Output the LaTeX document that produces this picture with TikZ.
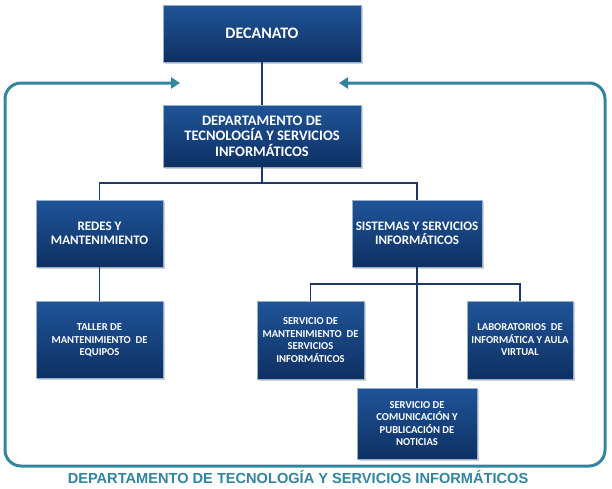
\documentclass[tikz,border=0pt]{standalone}
\usepackage{fontspec}
\setmainfont{Carlito}
\newfontfamily\titlefont{Liberation Sans}
\usetikzlibrary{arrows.meta,positioning,shadows}
\definecolor{framecol}{RGB}{49,133,156}
\definecolor{linkcol}{RGB}{31,56,100}
\definecolor{boxtop}{RGB}{31,84,152}
\definecolor{boxbot}{RGB}{14,48,98}
\definecolor{boxedge}{RGB}{150,175,205}
\tikzset
{
    unit/.style = {rectangle, draw=boxedge, line width=0.8pt, top color=boxtop, bottom color=boxbot,
        text=white, align=center, inner sep=0pt,
        drop shadow={shadow xshift=1.5pt, shadow yshift=-1.5pt, opacity=0.35}},
    bigtext/.style  = {font=\fontsize{14.5}{15.5}\selectfont\bfseries},
    midtext/.style  = {font=\fontsize{13}{14}\selectfont\bfseries},
    smalltext/.style = {font=\fontsize{10.6}{12.5}\selectfont\bfseries},
    link/.style = {draw=linkcol, line width=1.3pt},
    loopline/.style = {draw=framecol, line width=3pt, rounded corners=16pt, <->, >={Triangle[length=9pt,width=11pt]}}
}

\begin{document}
\begin{tikzpicture}[x=1pt, y=-1pt]
		\useasboundingbox (0,0) rectangle (612,488);

		% marco con flechas
		\coordinate (ltip) at (180,83);
		\coordinate (rtip) at (339,83);
		\draw[loopline] (ltip) -- (5,83) -- (5,466) -- (605,466) -- (605,83) -- (rtip);

		% cajas
		\node (dec) [unit, bigtext, minimum width=198pt, minimum height=57pt] at (262,33.5) {\fontsize{16}{18}\selectfont DECANATO};
		\node (dep) [unit, bigtext, minimum width=198pt, minimum height=62pt] at (262,136) {DEPARTAMENTO DE\\TECNOLOGÍA Y SERVICIOS\\INFORMÁTICOS};
		\node (red) [unit, midtext, minimum width=127pt, minimum height=67pt] at (99.5,233.5) {REDES Y\\MANTENIMIENTO};
		\node (sis) [unit, midtext, minimum width=130pt, minimum height=67pt] at (417,233.5) {SISTEMAS Y SERVICIOS\\INFORMÁTICOS};
		\node (tal) [unit, smalltext, minimum width=127pt, minimum height=77pt, below=34pt of red] {TALLER DE\\MANTENIMIENTO\ \ DE\\EQUIPOS};
		\node (smt) [unit, smalltext, minimum width=107pt, minimum height=78pt] at (310.5,340) {SERVICIO DE\\MANTENIMIENTO\ \ DE\\SERVICIOS\\INFORMÁTICOS};
		\node (lab) [unit, smalltext, minimum width=106pt, minimum height=78pt] at (520,340) {LABORATORIOS\ \ DE\\INFORMÁTICA Y AULA\\VIRTUAL};
		\node (com) [unit, smalltext, minimum width=120pt, minimum height=71pt] at (417,423.5) {SERVICIO DE\\COMUNICACIÓN Y\\PUBLICACIÓN DE\\NOTICIAS};

		% conectores
		\coordinate (bus1) at (262,183);
		\coordinate (bus2) at (417,284);
		\draw[link] (dec.south) -- (dep.north);
		\draw[link] (dep.south) -- (bus1);
		\draw[link] (red.north) |- (bus1) -| (sis.north);
		\draw[link] (red.south) -- (tal.north);
		\draw[link] (sis.south) -- (com.north);
		\draw[link] (smt.north) |- (bus2) -| (lab.north);

		\node (title) [text=framecol, font=\titlefont\fontsize{14.6}{16}\selectfont\bfseries] at (298,477) {DEPARTAMENTO DE TECNOLOGÍA Y SERVICIOS INFORMÁTICOS};
		\end{tikzpicture}
\end{document}
